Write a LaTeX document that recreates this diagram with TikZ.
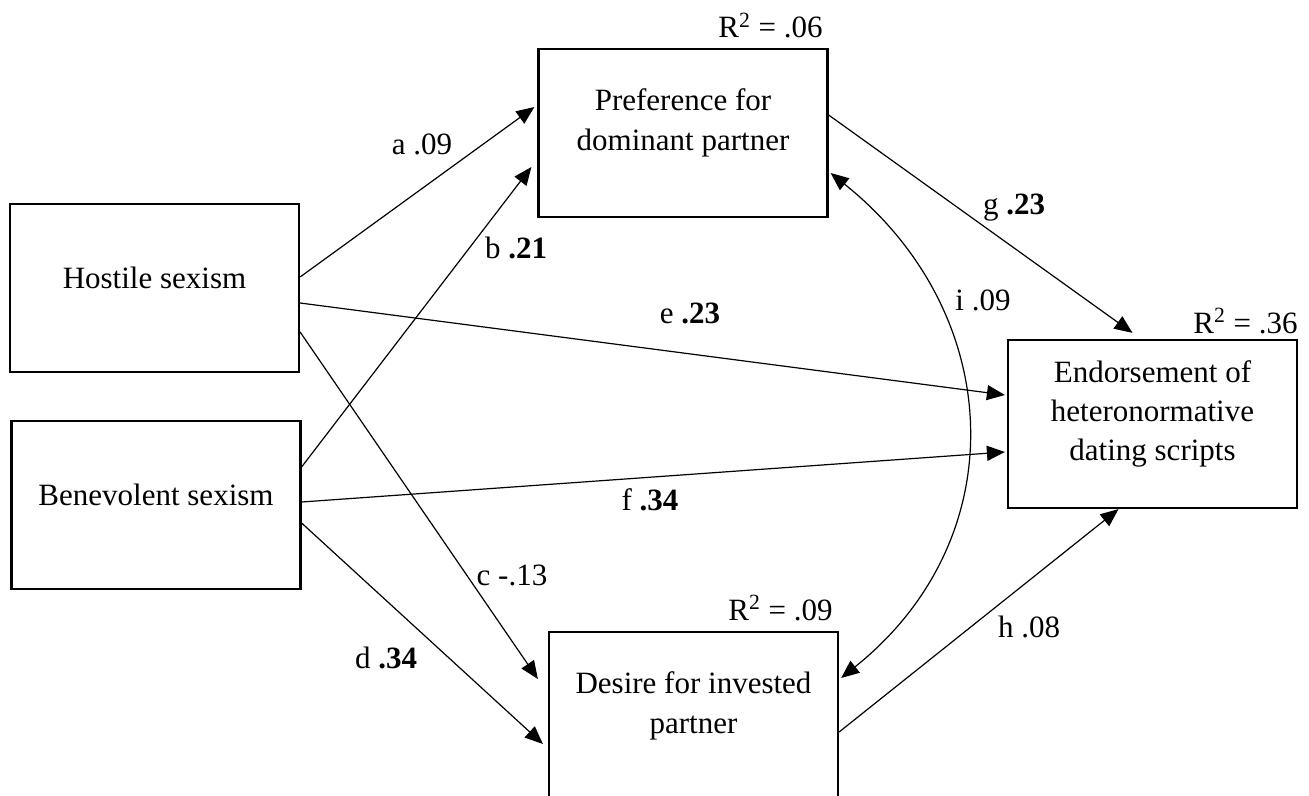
\documentclass[tikz,border=0pt]{standalone}
\usepackage{fontspec}
\setmainfont{Liberation Serif}
\usetikzlibrary{arrows.meta, calc}

\begin{document}
\begin{tikzpicture}[x=0.5pt, y=-0.5pt,
  every node/.style={font=\fontsize{15.5}{19.7}\selectfont},
  varbox/.style={draw, line width=1.1pt, minimum width=144.5pt, minimum height=84pt, inner sep=0pt},
  boxtext/.style={align=center, inner sep=0pt},
  coef/.style={anchor=base, inner sep=0pt},
  rsq/.style={anchor=base east, inner sep=0pt},
  effect/.style={line width=0.6pt, -{Triangle[length=9pt, width=7.5pt]}},
  covar/.style={line width=0.6pt, {Triangle[length=9pt, width=7.5pt]}-{Triangle[length=9pt, width=7.5pt]}}]
\useasboundingbox (0,0) rectangle (1309,796);

% The variables
\node [varbox] (hostile) at (154.5,288) {};
\node [varbox] (benev) at (156,505) {};
\node [varbox] (pref) at (683,133) {};
\node [varbox] (desire) at (693.5,716) {};
\node [varbox] (endorse) at (1152.5,424) {};

\node [boxtext] (hostile-t) at ([yshift=5pt]hostile.center) {Hostile sexism};
\node [boxtext] (benev-t) at ([yshift=5pt]benev.center) {Benevolent sexism};
\node [boxtext] (pref-t) at ([yshift=5pt]pref.center) {Preference for\\dominant partner};
\node [boxtext] (desire-t) at ([yshift=5pt]desire.center) {Desire for invested\\partner};
\node [boxtext] (endorse-t) at ([yshift=5pt]endorse.center) {Endorsement of\\heteronormative\\dating scripts};

% Explained variance
\node [rsq] (pref-r) at (823,38) {R\textsuperscript{2} = .06};
\node [rsq] (desire-r) at (833,620) {R\textsuperscript{2} = .09};
\node [rsq] (endorse-r) at (1298,333) {R\textsuperscript{2} = .36};

% Paths
\draw [effect] ($(hostile.east)+(0,-11)$) -- ($(pref.west)+(-3,-26)$);
\draw [effect] ($(benev.east)+(0,-38)$) -- ($(pref.west)+(-6,34)$);
\draw [effect] ($(hostile.east)+(0,44)$) -- ($(desire.west)+(-10,-37)$);
\draw [effect] ($(benev.east)+(0,18)$) -- ($(desire.west)+(-5,28)$);
\draw [effect] ($(hostile.east)+(0,15)$) -- ($(endorse.west)+(-2,-29)$);
\draw [effect] ($(benev.east)+(0,-3)$) -- ($(endorse.west)+(-2,28)$);
\draw [effect] ($(pref.east)+(0,-18)$) -- ($(endorse.north)+(-20,-6)$);
\draw [effect] ($(desire.east)+(0,16)$) -- ($(endorse.south)+(-34,0)$);

% Covariance
\draw [covar] ($(pref.east)+(2,40)$) .. controls +(175,140) and +(175,-140) .. ($(desire.east)+(2,-38)$);

% Coefficients
\node [coef] (a) at (422,155) {a .09};
\node [coef] (b) at (516,259) {b \textbf{.21}};
\node [coef] (c) at (512,585) {c -.13};
\node [coef] (d) at (386,668) {d \textbf{.34}};
\node [coef] (e) at (690,323) {e \textbf{.23}};
\node [coef] (f) at (650,510) {f \textbf{.34}};
\node [coef] (g) at (1014,215) {g \textbf{.23}};
\node [coef] (h) at (1029,637) {h .08};
\node [coef] (i) at (983,310) {i .09};

\end{tikzpicture}
\end{document}
